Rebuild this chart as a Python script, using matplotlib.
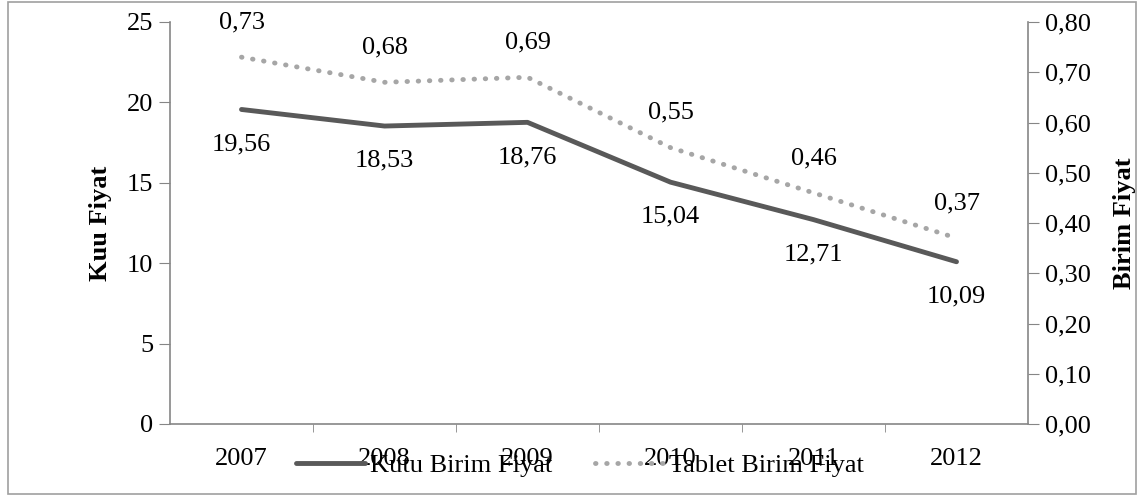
import matplotlib.pyplot as plt
from matplotlib.patches import Rectangle

years = ["2007", "2008", "2009", "2010", "2011", "2012"]
kutu = [19.56, 18.53, 18.76, 15.04, 12.71, 10.09]
tablet = [0.73, 0.68, 0.69, 0.55, 0.46, 0.37]
left_ticks = [0, 5, 10, 15, 20, 25]
right_ticks = [0.0, 0.1, 0.2, 0.3, 0.4, 0.5, 0.6, 0.7, 0.8]

plt.rcParams['font.family'] = ['Liberation Serif', 'DejaVu Serif']
plt.rcParams['font.size'] = 19
spine_c = '#868686'

fig = plt.figure(figsize=(11.43, 4.99), dpi=100)
fig.patches.append(Rectangle((8 / 1143, 5 / 499), 1128 / 1143, 492 / 499,
                             transform=fig.transFigure, fill=False,
                             edgecolor='#a0a0a0', linewidth=1.2))
ax = fig.add_axes([170 / 1143, 75 / 499, 858 / 1143, 402 / 499])
ax2 = ax.twinx()

x = list(range(len(years)))
l1, = ax.plot(x, kutu, color='#595959', linewidth=3.5, solid_capstyle='round',
              label='Kutu Birim Fiyat', zorder=3)
l2, = ax2.plot(x, tablet, color='#a6a6a6', linewidth=3.5, linestyle=(0, (0.1, 2.2)),
               dash_capstyle='round', label='Tablet Birim Fiyat', zorder=3)

for xi, v in zip(x, kutu):
    ax.annotate(f"{v:.2f}".replace('.', ','), (xi, v), xytext=(0, -25),
                textcoords='offset points', ha='center', va='center')
for xi, v in zip(x, tablet):
    ax2.annotate(f"{v:.2f}".replace('.', ','), (xi, v), xytext=(0, 25),
                 textcoords='offset points', ha='center', va='center')

ax.set_xlim(-0.5, len(years) - 0.5)
ax.set_ylim(0, 25)
ax2.set_ylim(0, 0.8)
ax.set_yticks(left_ticks)
ax2.set_yticks(right_ticks)
ax2.set_yticklabels([f"{t:.2f}".replace('.', ',') for t in right_ticks])
ax.set_xticks(x)
ax.set_xticklabels(years)
ax.set_xticks([i + 0.5 for i in range(len(years) - 1)], minor=True)
ax.tick_params(axis='x', which='major', length=0, pad=17)
ax.tick_params(axis='x', which='minor', length=6, color=spine_c, direction='out')
ax.tick_params(axis='y', length=8, color=spine_c, direction='out', pad=4)
ax2.tick_params(axis='y', length=8, color=spine_c, direction='out', pad=4)

for a in (ax, ax2):
    a.spines['top'].set_visible(False)
    for s in ('left', 'right', 'bottom'):
        a.spines[s].set_color(spine_c)
        a.spines[s].set_linewidth(1.2)
ax.spines['right'].set_visible(False)
ax2.spines['left'].set_visible(False)
ax2.spines['bottom'].set_visible(False)

ax.set_ylabel('Kuu Fiyat', fontweight='bold', labelpad=11)
ax2.set_ylabel('Birim Fiyat', fontweight='bold', labelpad=16)

fig.legend(handles=[l1, l2], loc='center', bbox_to_anchor=(580 / 1143, 1 - 465 / 499),
           ncol=2, frameon=False, handlelength=2.6, handletextpad=0.2,
           columnspacing=1.6)

fig.savefig('out.png', dpi=100)
